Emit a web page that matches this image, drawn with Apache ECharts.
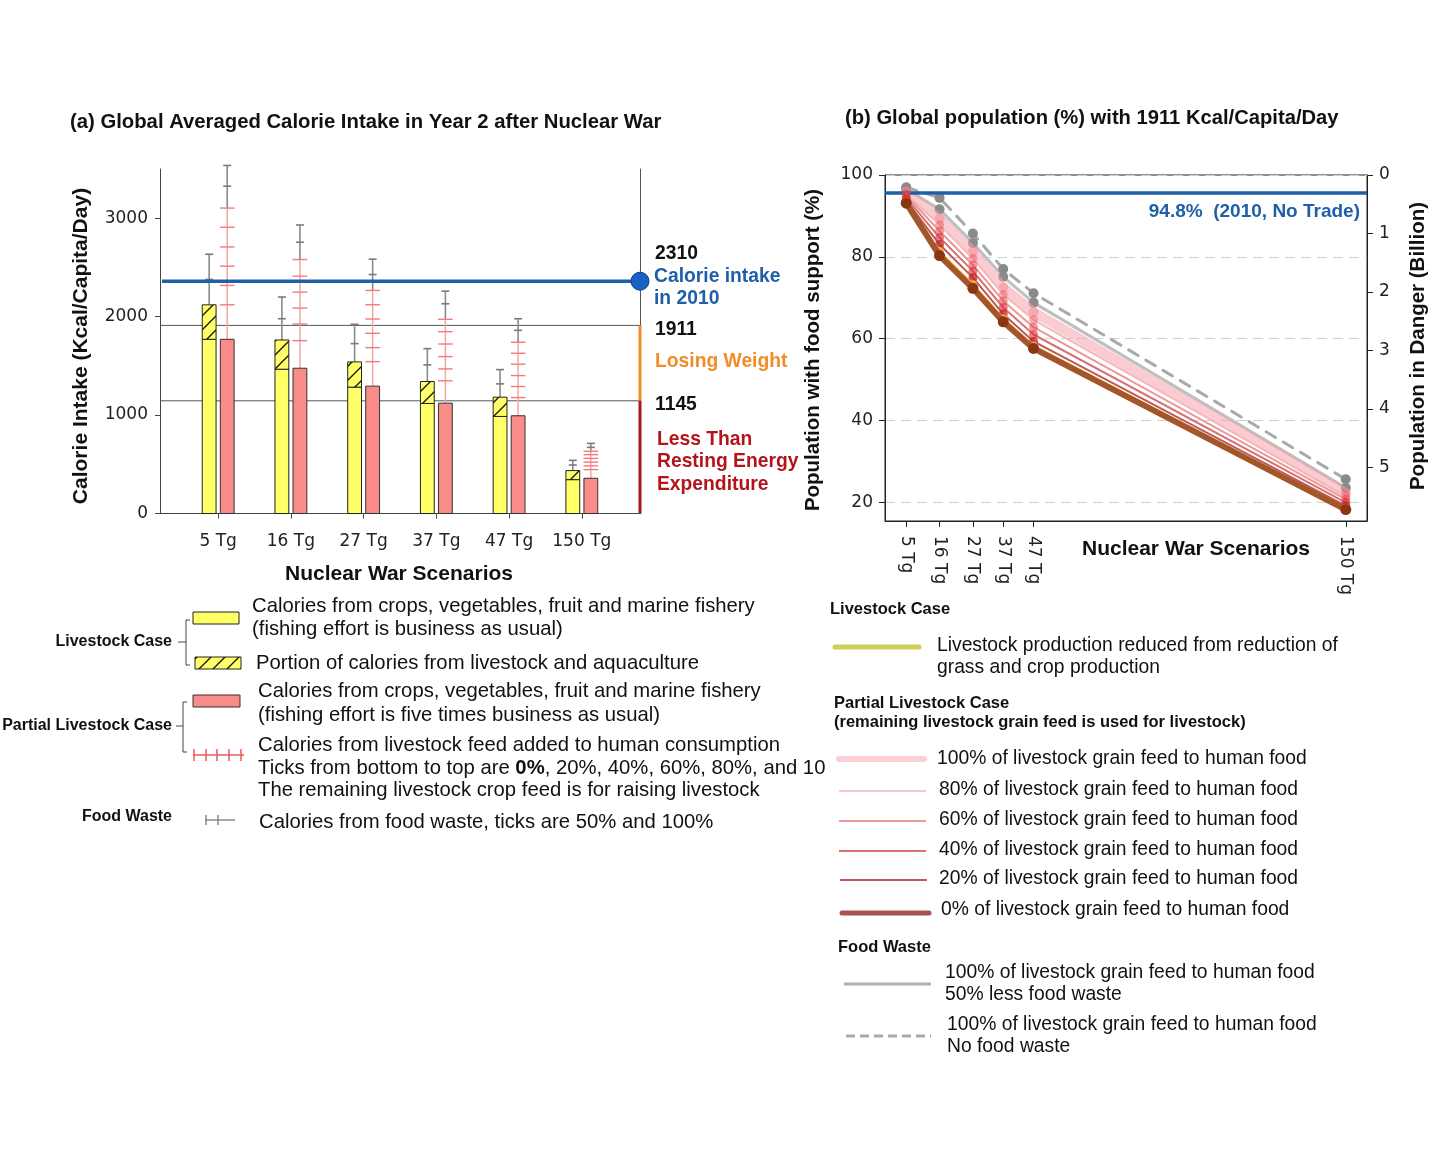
<!DOCTYPE html>
<html>
<head>
<meta charset="utf-8">
<script src="https://cdn.jsdelivr.net/npm/echarts@6/dist/echarts.min.js"></script>
<style>
html,body{margin:0;padding:0;background:#fff;}
#main{width:1431px;height:1168px;}
</style>
</head>
<body>
<div id="main"></div>
<script>
// ---------------- DATA ----------------
// Panel (a)
const categories = ['5 Tg', '16 Tg', '27 Tg', '37 Tg', '47 Tg', '150 Tg'];
const calorieTicks = [0, 1000, 2000, 3000];
const livestockCrops   = [1770, 1466, 1284, 1118, 986, 344];
const livestockTotal   = [2120, 1763, 1540, 1341, 1182, 436];
const livestockWaste50 = [2378, 1979, 1726, 1510, 1317, 493];
const livestockWaste100= [2634, 2199, 1922, 1675, 1462, 540];
const partialCrops     = [1770, 1476, 1294, 1121, 993, 358];
const partialFeedTicks = [
  [2120, 2317, 2513, 2708, 2908, 3103],
  [1756, 1925, 2087, 2249, 2411, 2580],
  [1543, 1685, 1831, 1976, 2121, 2266],
  [1348, 1469, 1594, 1722, 1847, 1973],
  [1178, 1290, 1401, 1517, 1628, 1740],
  [446, 484, 522, 560, 598, 632]
];
const partialWaste50  = [3326, 2756, 2428, 2131, 1861, 672];
const partialWaste100 = [3536, 2931, 2584, 2259, 1979, 712];
const intake2010 = 2360;          // drawn position of the 2010 line
const thresholdLosing = 1911;
const thresholdREE = 1145;

// Panel (b)
const scenarioTg = [5, 16, 27, 37, 47, 150];
const pctTicks = [20, 40, 60, 80, 100];
const billionTicks = [0, 1, 2, 3, 4, 5];
const noWaste      = [97.0, 94.4, 85.7, 77.0, 71.1, 25.6];
const halfWaste    = [96.6, 91.6, 83.4, 75.1, 68.8, 23.5];
const feed100      = [96.0, 89.3, 81.2, 72.5, 66.5, 22.3];
const feed80       = [95.5, 87.8, 79.6, 70.8, 64.6, 21.5];
const feed60       = [95.0, 86.3, 78.0, 69.2, 62.8, 20.7];
const feed40       = [94.4, 84.7, 76.5, 67.6, 61.0, 19.9];
const feed20       = [93.8, 83.0, 74.9, 66.0, 59.3, 19.1];
const livestockPct = [93.5, 81.4, 73.3, 65.0, 58.3, 18.6];
const feed0        = [93.1, 80.3, 72.3, 64.1, 57.6, 18.2];
const popSupport2010 = 95.7;      // drawn position of the 94.8% line

// ---------------- STYLE ----------------
const F = '"Liberation Sans", Arial, sans-serif';
const FD = '"DejaVu Sans", Verdana, sans-serif';
const BLUE = '#1f5fa8', ORANGE = '#f28c28', DRED = '#b3141a';
const YELLOW = '#ffff66', SALMON = '#f98b88';

const hatchCanvas = (function () {
  const c = document.createElement('canvas');
  c.width = 14; c.height = 14;
  const g = c.getContext('2d');
  g.fillStyle = YELLOW; g.fillRect(0, 0, 14, 14);
  g.strokeStyle = '#111'; g.lineWidth = 1.3;
  g.beginPath();
  g.moveTo(0, 14); g.lineTo(14, 0);
  g.moveTo(-2, 2); g.lineTo(2, -2);
  g.moveTo(12, 16); g.lineTo(16, 12);
  g.stroke();
  return c;
})();
const hatchFill = { image: hatchCanvas, repeat: 'repeat' };

function txt(x, y, text, size, opt) {
  opt = opt || {};
  return {
    type: 'text', x: x, y: y, rotation: opt.rot || 0, z: 100,
    style: {
      text: text,
      font: (opt.bold ? 'bold ' : '') + size + 'px ' + (opt.family || F),
      fill: opt.color || '#111',
      textAlign: opt.align || 'left',
      textVerticalAlign: 'middle',
      rich: opt.rich
    }
  };
}
function gline(x1, y1, x2, y2, color, w, extra) {
  return Object.assign({ type: 'line', z: 100, shape: { x1, y1, x2, y2 },
    style: { stroke: color, lineWidth: w, lineCap: (extra && extra.cap) || 'butt', lineDash: extra && extra.dash } });
}

// ---------------- CUSTOM RENDERERS (panel a) ----------------
function tickLine(x, y, w, color, lw) {
  return { type: 'line', shape: { x1: x - w / 2, y1: y, x2: x + w / 2, y2: y }, style: { stroke: color, lineWidth: lw } };
}
function renderLivestock(params, api) {
  const unit = api.size([1, 0])[0];
  const cx = api.coord([api.value(0), 0])[0] - 0.124 * unit;
  const w = 0.19 * unit;
  const y0 = api.coord([0, 0])[1];
  const yc = api.coord([0, api.value(1)])[1];
  const yt = api.coord([0, api.value(2)])[1];
  const y50 = api.coord([0, api.value(3)])[1];
  const y100 = api.coord([0, api.value(4)])[1];
  const tw = 0.11 * unit;
  return { type: 'group', children: [
    { type: 'line', shape: { x1: cx, y1: yt, x2: cx, y2: y100 }, style: { stroke: '#8a8a8a', lineWidth: 1.6 } },
    tickLine(cx, y50, tw, '#7a7a7a', 1.6),
    tickLine(cx, y100, tw, '#7a7a7a', 1.6),
    { type: 'rect', shape: { x: cx - w / 2, y: yc, width: w, height: y0 - yc }, style: { fill: YELLOW, stroke: '#222', lineWidth: 1 } },
    { type: 'rect', shape: { x: cx - w / 2, y: yt, width: w, height: yc - yt }, style: { fill: hatchFill, stroke: '#222', lineWidth: 1 } }
  ] };
}
function renderPartial(params, api) {
  const i = params.dataIndex;
  const unit = api.size([1, 0])[0];
  const cx = api.coord([api.value(0), 0])[0] + 0.124 * unit;
  const w = 0.19 * unit;
  const y0 = api.coord([0, 0])[1];
  const yc = api.coord([0, api.value(1)])[1];
  const ticks = partialFeedTicks[i].map(v => api.coord([0, v])[1]);
  const yTop = ticks[ticks.length - 1];
  const y50 = api.coord([0, api.value(2)])[1];
  const y100 = api.coord([0, api.value(3)])[1];
  const children = [
    { type: 'line', shape: { x1: cx, y1: yTop, x2: cx, y2: y100 }, style: { stroke: '#8a8a8a', lineWidth: 1.6 } },
    tickLine(cx, y50, 0.11 * unit, '#7a7a7a', 1.6),
    tickLine(cx, y100, 0.11 * unit, '#7a7a7a', 1.6),
    { type: 'line', shape: { x1: cx, y1: yc, x2: cx, y2: yTop }, style: { stroke: '#f6a5a5', lineWidth: 1.5 } }
  ];
  ticks.forEach(t => children.push(tickLine(cx, t, 0.2 * unit, '#f27a7a', 1.4)));
  children.push({ type: 'rect', shape: { x: cx - w / 2, y: yc, width: w, height: y0 - yc }, style: { fill: SALMON, stroke: '#333', lineWidth: 1 } });
  return { type: 'group', children: children };
}
function renderThresholds(params, api) {
  const cs = params.coordSys;
  const xr = cs.x + cs.width;
  const y0 = api.coord([0, 0])[1];
  const yL = api.coord([0, api.value(1)])[1];
  const yR = api.coord([0, api.value(2)])[1];
  return { type: 'group', children: [
    { type: 'line', shape: { x1: cs.x, y1: yL, x2: xr, y2: yL }, style: { stroke: '#555', lineWidth: 1 } },
    { type: 'line', shape: { x1: cs.x, y1: yR, x2: xr, y2: yR }, style: { stroke: '#555', lineWidth: 1 } },
    { type: 'line', shape: { x1: xr, y1: yL, x2: xr, y2: yR }, style: { stroke: ORANGE, lineWidth: 3 } },
    { type: 'line', shape: { x1: xr, y1: yR, x2: xr, y2: y0 }, style: { stroke: DRED, lineWidth: 3 } }
  ] };
}
function renderBlueRef(params, api) {
  const cs = params.coordSys;
  const xr = cs.x + cs.width;
  const y = api.coord([0, api.value(1)])[1];
  return { type: 'group', children: [
    { type: 'line', shape: { x1: cs.x + 2, y1: y, x2: xr, y2: y }, style: { stroke: BLUE, lineWidth: 3.5 } },
    { type: 'circle', shape: { cx: xr, cy: y, r: 9 }, style: { fill: '#1762c4', stroke: '#0d3f85', lineWidth: 1 } }
  ] };
}

// ---------------- PANEL (b) SERIES ----------------
function lineSeries(name, values, lineColor, width, markColor, size, z, dash) {
  return {
    name: name, type: 'line', xAxisIndex: 1, yAxisIndex: 2, z: z,
    data: scenarioTg.map((t, i) => [t, values[i]]),
    symbol: 'circle', symbolSize: size, showSymbol: true,
    itemStyle: { color: markColor },
    lineStyle: { color: lineColor, width: width, type: dash || 'solid', cap: 'round', join: 'round' },
    emphasis: { disabled: true }
  };
}

const bSeries = [
  lineSeries('No food waste', noWaste, '#a9a9a9', 3, '#8a8a8a', 10, 3, [11, 9]),
  lineSeries('50% less food waste', halfWaste, '#bfbfbf', 3, '#8a8a8a', 10, 3),
  lineSeries('100%', feed100, 'rgba(245,160,170,0.55)', 10, 'rgba(240,100,110,0.35)', 10, 4),
  lineSeries('80%', feed80, '#f3b9b9', 2, 'rgba(235,80,90,0.45)', 9, 5),
  lineSeries('60%', feed60, '#ea9898', 2, 'rgba(230,55,65,0.5)', 9, 6),
  lineSeries('40%', feed40, '#d97272', 2, 'rgba(220,40,50,0.6)', 9, 7),
  lineSeries('20%', feed20, '#bc5a5a', 2, 'rgba(195,30,40,0.75)', 9, 8),
  lineSeries('Livestock Case', livestockPct, '#f2c23a', 1.8, '#eab030', 8, 9),
  lineSeries('0%', feed0, '#a4552a', 6, '#8b3512', 11, 10)
];
bSeries[0].markLine = {
  silent: true, symbol: 'none', animation: false,
  label: { show: false },
  lineStyle: { color: BLUE, width: 3.5, type: 'solid' },
  data: [{ yAxis: popSupport2010 }]
};

// ---------------- GRAPHIC (titles, annotations, legends) ----------------
const G = [];
// titles
G.push(txt(70, 122, '(a) Global Averaged Calorie Intake in Year 2 after Nuclear War', 20.3, { bold: true }));
G.push(txt(845, 118, '(b) Global population (%) with 1911 Kcal/Capita/Day', 20.2, { bold: true }));
// axis titles
G.push(txt(81, 346, 'Calorie Intake (Kcal/Capita/Day)', 21, { bold: true, align: 'center', rot: Math.PI / 2 }));
G.push(txt(399, 574, 'Nuclear War Scenarios', 21, { bold: true, align: 'center' }));
G.push(txt(813, 350, 'Population with food support (%)', 20.5, { bold: true, align: 'center', rot: Math.PI / 2 }));
G.push(txt(1418, 346, 'Population in Danger (Billion)', 20.5, { bold: true, align: 'center', rot: Math.PI / 2 }));
G.push(txt(1196, 549, 'Nuclear War Scenarios', 21, { bold: true, align: 'center' }));
G.push(txt(1360, 212, '94.8%  (2010, No Trade)', 19, { bold: true, align: 'right', color: BLUE }));
// panel (a) annotations
const AS = 19.3;
G.push(txt(655, 254, '2310', AS, { bold: true }));
G.push(txt(654, 277, 'Calorie intake', AS, { bold: true, color: BLUE }));
G.push(txt(654, 299, 'in 2010', AS, { bold: true, color: BLUE }));
G.push(txt(655, 330, '1911', AS, { bold: true }));
G.push(txt(655, 362, 'Losing Weight', AS, { bold: true, color: ORANGE }));
G.push(txt(655, 405, '1145', AS, { bold: true }));
G.push(txt(657, 440, 'Less Than', AS, { bold: true, color: DRED }));
G.push(txt(657, 462, 'Resting Energy', AS, { bold: true, color: DRED }));
G.push(txt(657, 485, 'Expenditure', AS, { bold: true, color: DRED }));

// panel (a) legend
const LS = 20.3;
G.push({ type: 'rect', z: 100, shape: { x: 193, y: 612, width: 46, height: 12 }, style: { fill: YELLOW, stroke: '#222', lineWidth: 1 } });
G.push({ type: 'rect', z: 100, shape: { x: 195, y: 657, width: 46, height: 12 }, style: { fill: hatchFill, stroke: '#222', lineWidth: 1 } });
G.push({ type: 'rect', z: 100, shape: { x: 193, y: 695, width: 47, height: 12 }, style: { fill: SALMON, stroke: '#333', lineWidth: 1 } });
G.push(gline(193, 755, 244, 755, '#e85a5a', 1.5));
[194, 206, 217, 229, 241].forEach(x => G.push(gline(x, 749, x, 761, '#e85a5a', 1.5)));
G.push(gline(205, 820, 235, 820, '#8a8a8a', 1.5));
[206, 218].forEach(x => G.push(gline(x, 815, x, 825, '#8a8a8a', 1.5)));
// brackets
G.push({ type: 'polyline', z: 100, shape: { points: [[190, 620], [186, 620], [186, 665], [190, 665]] }, style: { stroke: '#444', lineWidth: 1, fill: null } });
G.push(gline(178, 642, 186, 642, '#444', 1));
G.push({ type: 'polyline', z: 100, shape: { points: [[187, 702], [183, 702], [183, 752], [187, 752]] }, style: { stroke: '#444', lineWidth: 1, fill: null } });
G.push(gline(176, 726, 183, 726, '#444', 1));
G.push(txt(172, 642, 'Livestock Case', 16, { bold: true, align: 'right' }));
G.push(txt(172, 726, 'Partial Livestock Case', 16, { bold: true, align: 'right' }));
G.push(txt(172, 817, 'Food Waste', 16, { bold: true, align: 'right' }));
G.push(txt(252, 606, 'Calories from crops, vegetables, fruit and marine fishery', LS));
G.push(txt(252, 629, '(fishing effort is business as usual)', LS));
G.push(txt(256, 663, 'Portion of calories from livestock and aquaculture', LS));
G.push(txt(258, 691, 'Calories from crops, vegetables, fruit and marine fishery', LS));
G.push(txt(258, 715, '(fishing effort is five times business as usual)', LS));
G.push(txt(258, 745, 'Calories from livestock feed added to human consumption', LS));
G.push(txt(258, 768, 'Ticks from bottom to top are {b|0%}, 20%, 40%, 60%, 80%, and 10', LS,
  { rich: { b: { font: 'bold ' + LS + 'px ' + F, fill: '#111' } } }));
// the reference cuts this legend line at the panel boundary
G.push({ type: 'rect', z: 101, shape: { x: 827, y: 756, width: 6, height: 24 }, style: { fill: '#fff' } });
G.push(txt(258, 790, 'The remaining livestock crop feed is for raising livestock', LS));
G.push(txt(259, 822, 'Calories from food waste, ticks are 50% and 100%', LS));

// panel (b) legend
const RS = 19.3;
G.push(txt(830, 609, 'Livestock Case', 16.5, { bold: true }));
G.push(gline(835, 647, 919, 647, '#cfd05a', 5, { cap: 'round' }));
G.push(txt(937, 646, 'Livestock production reduced from reduction of', RS));
G.push(txt(937, 668, 'grass and crop production', RS));
G.push(txt(834, 703, 'Partial Livestock Case', 16.5, { bold: true }));
G.push(txt(834, 722, '(remaining livestock grain feed is used for livestock)', 16.5, { bold: true }));
G.push(gline(839, 759, 924, 759, 'rgba(245,170,180,0.55)', 6, { cap: 'round' }));
G.push(txt(937, 759, '100% of livestock grain feed to human food', RS));
G.push(gline(839, 791, 926, 791, '#f3b9b9', 1.5));
G.push(txt(939, 790, '80% of livestock grain feed to human food', RS));
G.push(gline(839, 821, 926, 821, '#ea9898', 1.8));
G.push(txt(939, 820, '60% of livestock grain feed to human food', RS));
G.push(gline(839, 851, 926, 851, '#d97272', 1.8));
G.push(txt(939, 850, '40% of livestock grain feed to human food', RS));
G.push(gline(840, 880, 927, 880, '#bc5a5a', 1.8));
G.push(txt(939, 879, '20% of livestock grain feed to human food', RS));
G.push(gline(842, 913, 929, 913, '#a85252', 5, { cap: 'round' }));
G.push(txt(941, 910, '0% of livestock grain feed to human food', RS));
G.push(txt(838, 947, 'Food Waste', 16.5, { bold: true }));
G.push(gline(844, 984, 931, 984, '#b0b0b0', 3));
G.push(txt(945, 973, '100% of livestock grain feed to human food', RS));
G.push(txt(945, 995, '50% less food waste', RS));
G.push(gline(846, 1036, 931, 1036, '#aaaaaa', 3, { dash: [9, 5] }));
G.push(txt(947, 1025, '100% of livestock grain feed to human food', RS));
G.push(txt(947, 1047, 'No food waste', RS));

// ---------------- OPTION ----------------
const axisText = { fontFamily: FD, fontSize: 17, color: '#222' };
const plain = v => String(v);
const option = {
  animation: false,
  backgroundColor: '#fff',
  grid: [
    { left: 160, top: 169, width: 480, height: 344.5 },
    { left: 885, top: 175, width: 482, height: 346, show: true, borderColor: '#222', borderWidth: 1, backgroundColor: 'transparent' }
  ],
  xAxis: [
    {
      type: 'value', gridIndex: 0, min: -0.8, max: 5.8,
      axisLine: { show: true, onZero: false, lineStyle: { color: '#444', width: 1 } },
      axisTick: { show: true, length: 5, customValues: categories.map((c, i) => i), lineStyle: { color: '#444' } },
      axisLabel: { customValues: categories.map((c, i) => i), formatter: v => categories[Math.round(v)], margin: 20, ...axisText },
      splitLine: { show: false }
    },
    {
      type: 'value', gridIndex: 1, min: -2, max: 157,
      axisLine: { show: true, onZero: false, lineStyle: { color: '#222' } },
      axisTick: { show: true, length: 6, customValues: scenarioTg, lineStyle: { color: '#222' } },
      axisLabel: { customValues: scenarioTg, formatter: v => v + ' Tg', rotate: -90, margin: 15, ...axisText },
      splitLine: { show: false }
    }
  ],
  yAxis: [
    {
      type: 'value', gridIndex: 0, min: 0, max: 3500,
      axisLine: { show: true, onZero: false, lineStyle: { color: '#444' } },
      axisTick: { show: true, length: 5, customValues: calorieTicks, lineStyle: { color: '#444' } },
      axisLabel: { customValues: calorieTicks, formatter: plain, margin: 12, ...axisText },
      splitLine: { show: false }
    },
    {
      type: 'value', gridIndex: 0, min: 0, max: 3500, position: 'right',
      axisLine: { show: true, onZero: false, lineStyle: { color: '#555' } },
      axisTick: { show: false }, axisLabel: { show: false }, splitLine: { show: false }
    },
    {
      type: 'value', gridIndex: 1, min: 15.4, max: 100, position: 'left',
      axisLine: { show: true, onZero: false, lineStyle: { color: '#222' } },
      axisTick: { show: true, length: 6, customValues: pctTicks, lineStyle: { color: '#222' } },
      axisLabel: { customValues: pctTicks, formatter: plain, margin: 12, ...axisText },
      splitLine: { show: true, lineStyle: { color: '#d0d0d0', type: [10, 6], width: 1 } }
    },
    {
      type: 'value', gridIndex: 1, min: 0, max: 5.92, position: 'right', inverse: true,
      axisLine: { show: true, onZero: false, lineStyle: { color: '#222' } },
      axisTick: { show: true, length: 6, customValues: billionTicks, lineStyle: { color: '#222' } },
      axisLabel: { customValues: billionTicks, formatter: plain, margin: 12, ...axisText },
      splitLine: { show: false }
    }
  ],
  series: [
    { type: 'custom', name: 'thresholds', xAxisIndex: 0, yAxisIndex: 0, z: 1, silent: true,
      renderItem: renderThresholds, data: [[0, thresholdLosing, thresholdREE]] },
    { type: 'custom', name: 'Livestock Case', xAxisIndex: 0, yAxisIndex: 0, z: 3, silent: true,
      renderItem: renderLivestock,
      data: categories.map((c, i) => [i, livestockCrops[i], livestockTotal[i], livestockWaste50[i], livestockWaste100[i]]) },
    { type: 'custom', name: 'Partial Livestock Case', xAxisIndex: 0, yAxisIndex: 0, z: 3, silent: true,
      renderItem: renderPartial,
      data: categories.map((c, i) => [i, partialCrops[i], partialWaste50[i], partialWaste100[i]]) },
    { type: 'custom', name: '2010 intake', xAxisIndex: 0, yAxisIndex: 0, z: 6, silent: true,
      renderItem: renderBlueRef, data: [[0, intake2010]] }
  ].concat(bSeries),
  graphic: { elements: G }
};

const chart = echarts.init(document.getElementById('main'), null, { renderer: 'canvas' });
chart.setOption(option);
</script>
</body>
</html>
